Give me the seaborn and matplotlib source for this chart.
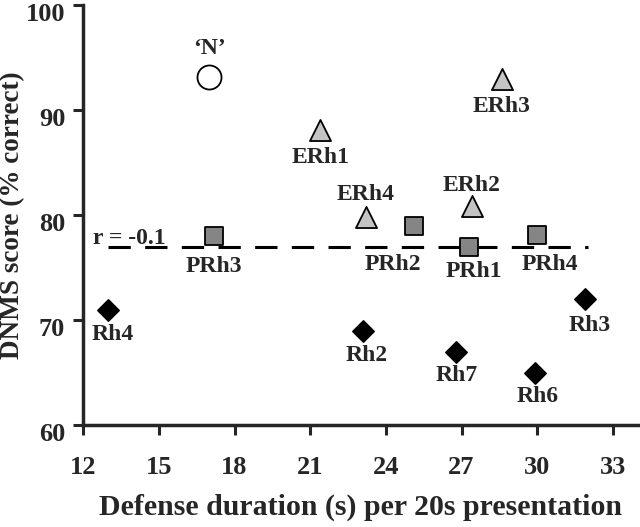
import matplotlib
matplotlib.use('Agg')
import matplotlib.pyplot as plt
import matplotlib.transforms as mtransforms
import seaborn as sns
import pandas as pd

# defense duration (s) and DNMS score for each animal
names = ["\u2018N\u2019", "ERh1", "ERh3", "ERh4", "ERh2",
         "PRh3", "PRh2", "PRh1", "PRh4",
         "Rh4", "Rh2", "Rh7", "Rh6", "Rh3"]
groups = ["N", "ERh", "ERh", "ERh", "ERh",
          "PRh", "PRh", "PRh", "PRh",
          "Rh", "Rh", "Rh", "Rh", "Rh"]
defense = [17.0, 21.4, 28.6, 23.2, 27.4,
           17.2, 25.1, 27.3, 30.0,
           13.0, 23.1, 26.8, 29.9, 31.9]
score = [93.1, 88.1, 93.0, 79.8, 80.9,
         78.0, 79.0, 77.0, 78.1,
         71.0, 69.0, 67.0, 65.0, 72.0]

# label offsets (pixels) from each point
label_dx = [0, 0, 0, 0, 0, 0, -21, 5, 13, 4, 4, 0, 3, 5]
label_dy = [29, -28, -28, 23, 20, -30, -39, -25, -30, -25, -25, -24, -24, -26]

# regression line (r = -0.1)
fit_x = [13.0, 32.0]
fit_y = [77.0, 77.0]

x_ticks = [12, 15, 18, 21, 24, 27, 30, 33]
y_ticks = [60, 70, 80, 90, 100]

df = pd.DataFrame({'name': names, 'group': groups, 'defense': defense, 'score': score})

sns.set_style('ticks')
plt.rcParams['font.family'] = ['Liberation Serif', 'DejaVu Serif']
plt.rcParams['font.weight'] = 'bold'

fig = plt.figure(figsize=(6.4, 5.27), dpi=100)
ax = fig.add_axes([0.13, 0.1935, 0.867, 0.797])

palette = {'N': 'white', 'ERh': '#c4c4c4', 'PRh': '#858585', 'Rh': 'black'}
markers = {'N': 'o', 'ERh': '^', 'PRh': 's', 'Rh': 'D'}
sizes = {'N': 300, 'ERh': 230, 'PRh': 170, 'Rh': 115}

for g in ['N', 'ERh', 'PRh', 'Rh']:
    sub = df[df['group'] == g]
    sns.scatterplot(data=sub, x='defense', y='score', ax=ax,
                    color=palette[g], marker=markers[g], s=sizes[g],
                    edgecolor='black', linewidth=1.3, zorder=3)

ax.plot(fit_x, fit_y, color='black', lw=2.2, linestyle=(0, (7.3, 4.7)), zorder=2)
ax.text(12.4, 77.8, 'r = -0.1', fontsize=17, fontweight='bold', va='center', ha='left')

for i, row in df.iterrows():
    ax.annotate(row['name'], (row['defense'], row['score']),
                xytext=(label_dx[i], label_dy[i]), textcoords='offset pixels',
                ha='center', va='center', fontsize=17, fontweight='bold')

ax.set_xlim(12, 34)
ax.set_ylim(60, 100)
ax.set_xticks(x_ticks)
ax.set_yticks(y_ticks)
ax.tick_params(axis='both', labelsize=19, width=2.2, length=7, pad=6)
ax.tick_params(axis='x', pad=15)
for lab in ax.get_xticklabels() + ax.get_yticklabels():
    lab.set_fontweight('bold')
# y tick labels sit a little below their ticks in the original
shift = mtransforms.ScaledTranslation(0, -0.07, fig.dpi_scale_trans)
for lab in ax.get_yticklabels():
    lab.set_transform(lab.get_transform() + shift)
sns.despine(ax=ax)
for sp in ['left', 'bottom']:
    ax.spines[sp].set_linewidth(2.5)

ax.set_xlabel('Defense duration (s) per 20s presentation', fontsize=21.5,
              fontweight='bold', labelpad=11)
ax.set_ylabel('DNMS score (% correct)', fontsize=19.5, fontweight='bold')
ax.yaxis.set_label_coords(-0.104, 0.5)

fig.savefig('out.png', dpi=100)
